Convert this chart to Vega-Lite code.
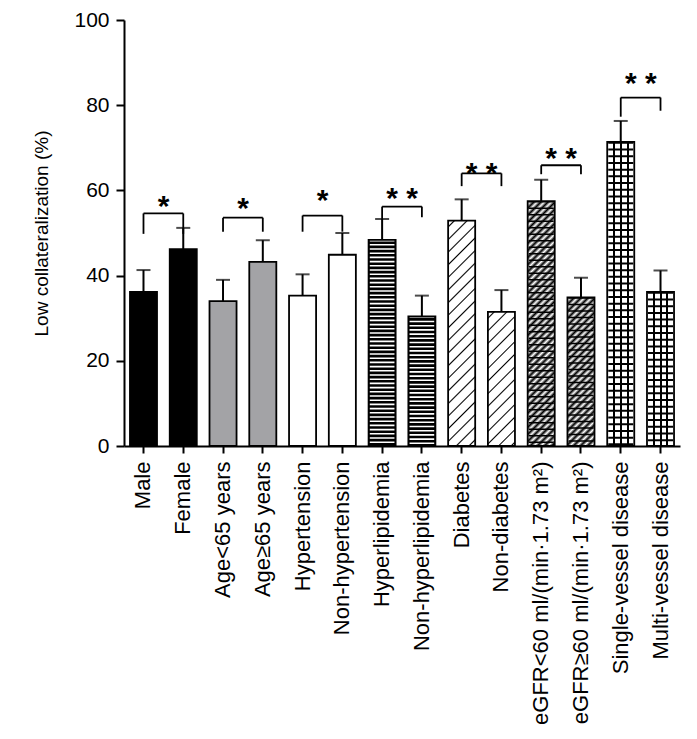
{
  "$schema": "https://vega.github.io/schema/vega-lite/v6.json",
  "width": 556,
  "height": 426,
  "autosize": "none",
  "padding": {"left": 124, "top": 20, "right": 17, "bottom": 293},
  "background": "#ffffff",
  "config": {"font": "Liberation Sans", "view": {"stroke": null}},
  "datasets": {
    "bars": [
      {"label": "Male", "factor": "Sex", "value": 36.2, "upper": 41.3},
      {"label": "Female", "factor": "Sex", "value": 46.2, "upper": 51.2},
      {"label": "Age<65 years", "factor": "Age", "value": 34.0, "upper": 39.0},
      {"label": "Age≥65 years", "factor": "Age", "value": 43.2, "upper": 48.3},
      {"label": "Hypertension", "factor": "Hypertension", "value": 35.3, "upper": 40.3},
      {"label": "Non-hypertension", "factor": "Hypertension", "value": 44.9, "upper": 50.0},
      {"label": "Hyperlipidemia", "factor": "Hyperlipidemia", "value": 48.4, "upper": 53.3},
      {"label": "Non-hyperlipidemia", "factor": "Hyperlipidemia", "value": 30.4, "upper": 35.3},
      {"label": "Diabetes", "factor": "Diabetes", "value": 52.9, "upper": 57.9},
      {"label": "Non-diabetes", "factor": "Diabetes", "value": 31.5, "upper": 36.6},
      {"label": "eGFR<60 ml/(min·1.73 m²)", "factor": "eGFR", "value": 57.5, "upper": 62.5},
      {"label": "eGFR≥60 ml/(min·1.73 m²)", "factor": "eGFR", "value": 34.9, "upper": 39.5},
      {"label": "Single-vessel disease", "factor": "Vessel", "value": 71.4, "upper": 76.3},
      {"label": "Multi-vessel disease", "factor": "Vessel", "value": 36.2, "upper": 41.2}
    ],
    "brackets": [
      {"a": "Male", "b": "Female", "top": 54.6, "legA": 49.8, "legB": 49.8, "stars": "*", "starY": 57.7},
      {"a": "Age<65 years", "b": "Age≥65 years", "top": 53.6, "legA": 50.3, "legB": 50.3, "stars": "*", "starY": 57.2},
      {"a": "Hypertension", "b": "Non-hypertension", "top": 54.1, "legA": 50.3, "legB": 50.3, "stars": "*", "starY": 59.1},
      {"a": "Hyperlipidemia", "b": "Non-hyperlipidemia", "top": 56.2, "legA": 53.3, "legB": 53.7, "stars": "* *", "starY": 59.6},
      {"a": "Diabetes", "b": "Non-diabetes", "top": 64.0, "legA": 61.0, "legB": 61.0, "stars": "* *", "starY": 65.6},
      {"a": "eGFR<60 ml/(min·1.73 m²)", "b": "eGFR≥60 ml/(min·1.73 m²)", "top": 65.9, "legA": 63.8, "legB": 63.8, "stars": "* *", "starY": 69.1},
      {"a": "Single-vessel disease", "b": "Multi-vessel disease", "top": 81.8, "legA": 77.3, "legB": 78.7, "stars": "* *", "starY": 86.7}
    ]
  },
  "encoding": {
    "x": {
      "field": "label",
      "type": "nominal",
      "scale": {
        "domain": ["Male", "Female", "Age<65 years", "Age≥65 years", "Hypertension", "Non-hypertension", "Hyperlipidemia", "Non-hyperlipidemia", "Diabetes", "Non-diabetes", "eGFR<60 ml/(min·1.73 m²)", "eGFR≥60 ml/(min·1.73 m²)", "Single-vessel disease", "Multi-vessel disease"],
        "paddingInner": 0.32,
        "paddingOuter": 0.15
      },
      "axis": {
        "title": null,
        "labelAngle": -90,
        "labelAlign": "right",
        "labelBaseline": "middle",
        "labelFontSize": 22,
        "labelColor": "#000",
        "labelPadding": 8,
        "labelLimit": 400,
        "labelOverlap": false,
        "tickColor": "#000",
        "tickWidth": 2,
        "tickSize": 7,
        "domainColor": "#000",
        "domainWidth": 2
      }
    },
    "y": {
      "field": "value",
      "type": "quantitative",
      "scale": {"domain": [0, 100], "nice": false, "zero": true},
      "axis": {
        "title": "Low collateralization (%)",
        "titleFontSize": 19,
        "titleFontWeight": "normal",
        "titleColor": "#000",
        "titlePadding": 22,
        "values": [0, 20, 40, 60, 80, 100],
        "labelFontSize": 21,
        "labelColor": "#000",
        "labelPadding": 7,
        "tickColor": "#000",
        "tickWidth": 2,
        "tickSize": 8,
        "domainColor": "#000",
        "domainWidth": 2,
        "grid": false
      }
    }
  },
  "layer": [
    {
      "data": {"name": "bars"},
      "mark": {"type": "bar", "strokeWidth": 0},
      "encoding": {
        "fill": {
          "condition": [
            {"test": "datum.factor === 'Sex'", "value": "#000000"},
            {"test": "datum.factor === 'Age'", "value": "#a3a3a6"},
            {"test": "datum.factor === 'Hyperlipidemia'", "value": "#000000"}
          ],
          "value": "#ffffff"
        }
      }
    },
    {
      "data": {"name": "bars"},
      "transform": [{"filter": "datum.label === 'Diabetes'"}],
      "mark": {"type": "bar", "strokeWidth": 0, "fill": {"gradient": "linear", "x1": 0, "y1": 0, "x2": 0.132, "y2": 1.104, "stops": [
        {"offset": 0.019, "color": "#fff"}, {"offset": 0.025, "color": "#000"}, {"offset": 0.031, "color": "#fff"},
        {"offset": 0.069, "color": "#fff"}, {"offset": 0.075, "color": "#000"}, {"offset": 0.081, "color": "#fff"},
        {"offset": 0.119, "color": "#fff"}, {"offset": 0.125, "color": "#000"}, {"offset": 0.131, "color": "#fff"},
        {"offset": 0.169, "color": "#fff"}, {"offset": 0.175, "color": "#000"}, {"offset": 0.181, "color": "#fff"},
        {"offset": 0.219, "color": "#fff"}, {"offset": 0.225, "color": "#000"}, {"offset": 0.231, "color": "#fff"},
        {"offset": 0.269, "color": "#fff"}, {"offset": 0.275, "color": "#000"}, {"offset": 0.281, "color": "#fff"},
        {"offset": 0.319, "color": "#fff"}, {"offset": 0.325, "color": "#000"}, {"offset": 0.331, "color": "#fff"},
        {"offset": 0.369, "color": "#fff"}, {"offset": 0.375, "color": "#000"}, {"offset": 0.381, "color": "#fff"},
        {"offset": 0.419, "color": "#fff"}, {"offset": 0.425, "color": "#000"}, {"offset": 0.431, "color": "#fff"},
        {"offset": 0.469, "color": "#fff"}, {"offset": 0.475, "color": "#000"}, {"offset": 0.481, "color": "#fff"},
        {"offset": 0.519, "color": "#fff"}, {"offset": 0.525, "color": "#000"}, {"offset": 0.531, "color": "#fff"},
        {"offset": 0.569, "color": "#fff"}, {"offset": 0.575, "color": "#000"}, {"offset": 0.581, "color": "#fff"},
        {"offset": 0.619, "color": "#fff"}, {"offset": 0.625, "color": "#000"}, {"offset": 0.631, "color": "#fff"},
        {"offset": 0.669, "color": "#fff"}, {"offset": 0.675, "color": "#000"}, {"offset": 0.681, "color": "#fff"},
        {"offset": 0.719, "color": "#fff"}, {"offset": 0.725, "color": "#000"}, {"offset": 0.731, "color": "#fff"},
        {"offset": 0.769, "color": "#fff"}, {"offset": 0.775, "color": "#000"}, {"offset": 0.781, "color": "#fff"},
        {"offset": 0.819, "color": "#fff"}, {"offset": 0.825, "color": "#000"}, {"offset": 0.831, "color": "#fff"},
        {"offset": 0.869, "color": "#fff"}, {"offset": 0.875, "color": "#000"}, {"offset": 0.881, "color": "#fff"},
        {"offset": 0.919, "color": "#fff"}, {"offset": 0.925, "color": "#000"}, {"offset": 0.931, "color": "#fff"},
        {"offset": 0.969, "color": "#fff"}, {"offset": 0.975, "color": "#000"}, {"offset": 0.981, "color": "#fff"}
      ]}}
    },
    {
      "data": {"name": "bars"},
      "transform": [{"filter": "datum.label === 'Non-diabetes'"}],
      "mark": {"type": "bar", "strokeWidth": 0, "fill": {"gradient": "linear", "x1": 0, "y1": 0, "x2": 0.2323, "y2": 1.1544, "stops": [
        {"offset": 0.031, "color": "#fff"}, {"offset": 0.04, "color": "#000"}, {"offset": 0.049, "color": "#fff"},
        {"offset": 0.109, "color": "#fff"}, {"offset": 0.118, "color": "#000"}, {"offset": 0.127, "color": "#fff"},
        {"offset": 0.187, "color": "#fff"}, {"offset": 0.196, "color": "#000"}, {"offset": 0.205, "color": "#fff"},
        {"offset": 0.265, "color": "#fff"}, {"offset": 0.274, "color": "#000"}, {"offset": 0.283, "color": "#fff"},
        {"offset": 0.343, "color": "#fff"}, {"offset": 0.352, "color": "#000"}, {"offset": 0.361, "color": "#fff"},
        {"offset": 0.421, "color": "#fff"}, {"offset": 0.43, "color": "#000"}, {"offset": 0.439, "color": "#fff"},
        {"offset": 0.499, "color": "#fff"}, {"offset": 0.508, "color": "#000"}, {"offset": 0.517, "color": "#fff"},
        {"offset": 0.577, "color": "#fff"}, {"offset": 0.586, "color": "#000"}, {"offset": 0.595, "color": "#fff"},
        {"offset": 0.655, "color": "#fff"}, {"offset": 0.664, "color": "#000"}, {"offset": 0.673, "color": "#fff"},
        {"offset": 0.733, "color": "#fff"}, {"offset": 0.742, "color": "#000"}, {"offset": 0.751, "color": "#fff"},
        {"offset": 0.811, "color": "#fff"}, {"offset": 0.82, "color": "#000"}, {"offset": 0.829, "color": "#fff"},
        {"offset": 0.889, "color": "#fff"}, {"offset": 0.898, "color": "#000"}, {"offset": 0.907, "color": "#fff"},
        {"offset": 0.967, "color": "#fff"}, {"offset": 0.976, "color": "#000"}, {"offset": 0.985, "color": "#fff"}
      ]}}
    },
    {
      "data": {"name": "bars"},
      "transform": [{"filter": "datum.label === 'eGFR<60 ml/(min·1.73 m²)'"}],
      "mark": {"type": "bar", "strokeWidth": 0, "fill": {"gradient": "linear", "x1": 0, "y1": 0, "x2": 0.1211, "y2": 1.0971, "stops": [
        {"offset": 0, "color": "#000"}, {"offset": 0.013, "color": "#fff"}, {"offset": 0.026, "color": "#000"}, {"offset": 0.039, "color": "#fff"},
        {"offset": 0.052, "color": "#000"}, {"offset": 0.065, "color": "#fff"}, {"offset": 0.078, "color": "#000"}, {"offset": 0.091, "color": "#fff"},
        {"offset": 0.104, "color": "#000"}, {"offset": 0.117, "color": "#fff"}, {"offset": 0.13, "color": "#000"}, {"offset": 0.143, "color": "#fff"},
        {"offset": 0.156, "color": "#000"}, {"offset": 0.169, "color": "#fff"}, {"offset": 0.182, "color": "#000"}, {"offset": 0.195, "color": "#fff"},
        {"offset": 0.208, "color": "#000"}, {"offset": 0.221, "color": "#fff"}, {"offset": 0.234, "color": "#000"}, {"offset": 0.247, "color": "#fff"},
        {"offset": 0.26, "color": "#000"}, {"offset": 0.273, "color": "#fff"}, {"offset": 0.286, "color": "#000"}, {"offset": 0.299, "color": "#fff"},
        {"offset": 0.312, "color": "#000"}, {"offset": 0.325, "color": "#fff"}, {"offset": 0.338, "color": "#000"}, {"offset": 0.351, "color": "#fff"},
        {"offset": 0.364, "color": "#000"}, {"offset": 0.377, "color": "#fff"}, {"offset": 0.39, "color": "#000"}, {"offset": 0.403, "color": "#fff"},
        {"offset": 0.416, "color": "#000"}, {"offset": 0.429, "color": "#fff"}, {"offset": 0.442, "color": "#000"}, {"offset": 0.455, "color": "#fff"},
        {"offset": 0.468, "color": "#000"}, {"offset": 0.481, "color": "#fff"}, {"offset": 0.494, "color": "#000"}, {"offset": 0.507, "color": "#fff"},
        {"offset": 0.52, "color": "#000"}, {"offset": 0.533, "color": "#fff"}, {"offset": 0.546, "color": "#000"}, {"offset": 0.559, "color": "#fff"},
        {"offset": 0.572, "color": "#000"}, {"offset": 0.585, "color": "#fff"}, {"offset": 0.598, "color": "#000"}, {"offset": 0.611, "color": "#fff"},
        {"offset": 0.624, "color": "#000"}, {"offset": 0.637, "color": "#fff"}, {"offset": 0.65, "color": "#000"}, {"offset": 0.663, "color": "#fff"},
        {"offset": 0.676, "color": "#000"}, {"offset": 0.689, "color": "#fff"}, {"offset": 0.702, "color": "#000"}, {"offset": 0.715, "color": "#fff"},
        {"offset": 0.728, "color": "#000"}, {"offset": 0.741, "color": "#fff"}, {"offset": 0.754, "color": "#000"}, {"offset": 0.767, "color": "#fff"},
        {"offset": 0.78, "color": "#000"}, {"offset": 0.793, "color": "#fff"}, {"offset": 0.806, "color": "#000"}, {"offset": 0.819, "color": "#fff"},
        {"offset": 0.832, "color": "#000"}, {"offset": 0.845, "color": "#fff"}, {"offset": 0.858, "color": "#000"}, {"offset": 0.871, "color": "#fff"},
        {"offset": 0.884, "color": "#000"}, {"offset": 0.897, "color": "#fff"}, {"offset": 0.91, "color": "#000"}, {"offset": 0.923, "color": "#fff"},
        {"offset": 0.936, "color": "#000"}, {"offset": 0.949, "color": "#fff"}, {"offset": 0.962, "color": "#000"}, {"offset": 0.975, "color": "#fff"},
        {"offset": 0.988, "color": "#000"}
      ]}}
    },
    {
      "data": {"name": "bars"},
      "transform": [{"filter": "datum.label === 'eGFR≥60 ml/(min·1.73 m²)'"}],
      "mark": {"type": "bar", "strokeWidth": 0, "fill": {"gradient": "linear", "x1": 0, "y1": 0, "x2": 0.2081, "y2": 1.144, "stops": [
        {"offset": 0, "color": "#000"}, {"offset": 0.02, "color": "#fff"}, {"offset": 0.04, "color": "#000"}, {"offset": 0.06, "color": "#fff"},
        {"offset": 0.08, "color": "#000"}, {"offset": 0.1, "color": "#fff"}, {"offset": 0.12, "color": "#000"}, {"offset": 0.14, "color": "#fff"},
        {"offset": 0.16, "color": "#000"}, {"offset": 0.18, "color": "#fff"}, {"offset": 0.2, "color": "#000"}, {"offset": 0.22, "color": "#fff"},
        {"offset": 0.24, "color": "#000"}, {"offset": 0.26, "color": "#fff"}, {"offset": 0.28, "color": "#000"}, {"offset": 0.3, "color": "#fff"},
        {"offset": 0.32, "color": "#000"}, {"offset": 0.34, "color": "#fff"}, {"offset": 0.36, "color": "#000"}, {"offset": 0.38, "color": "#fff"},
        {"offset": 0.4, "color": "#000"}, {"offset": 0.42, "color": "#fff"}, {"offset": 0.44, "color": "#000"}, {"offset": 0.46, "color": "#fff"},
        {"offset": 0.48, "color": "#000"}, {"offset": 0.5, "color": "#fff"}, {"offset": 0.52, "color": "#000"}, {"offset": 0.54, "color": "#fff"},
        {"offset": 0.56, "color": "#000"}, {"offset": 0.58, "color": "#fff"}, {"offset": 0.6, "color": "#000"}, {"offset": 0.62, "color": "#fff"},
        {"offset": 0.64, "color": "#000"}, {"offset": 0.66, "color": "#fff"}, {"offset": 0.68, "color": "#000"}, {"offset": 0.7, "color": "#fff"},
        {"offset": 0.72, "color": "#000"}, {"offset": 0.74, "color": "#fff"}, {"offset": 0.76, "color": "#000"}, {"offset": 0.78, "color": "#fff"},
        {"offset": 0.8, "color": "#000"}, {"offset": 0.82, "color": "#fff"}, {"offset": 0.84, "color": "#000"}, {"offset": 0.86, "color": "#fff"},
        {"offset": 0.88, "color": "#000"}, {"offset": 0.9, "color": "#fff"}, {"offset": 0.92, "color": "#000"}, {"offset": 0.94, "color": "#fff"},
        {"offset": 0.96, "color": "#000"}, {"offset": 0.98, "color": "#fff"}, {"offset": 1, "color": "#000"}
      ]}}
    },
    {
      "data": {"name": "bars"},
      "transform": [{"filter": "datum.factor === 'Vessel'"}],
      "mark": {"type": "bar", "strokeWidth": 0, "fill": {"gradient": "linear", "x1": 0, "y1": 0, "x2": 1, "y2": 0, "stops": [
        {"offset": 0, "color": "#fff"}, {"offset": 0.213, "color": "#fff"}, {"offset": 0.213, "color": "#000"}, {"offset": 0.287, "color": "#000"}, {"offset": 0.287, "color": "#fff"},
        {"offset": 0.463, "color": "#fff"}, {"offset": 0.463, "color": "#000"}, {"offset": 0.537, "color": "#000"}, {"offset": 0.537, "color": "#fff"},
        {"offset": 0.713, "color": "#fff"}, {"offset": 0.713, "color": "#000"}, {"offset": 0.787, "color": "#000"}, {"offset": 0.787, "color": "#fff"},
        {"offset": 1, "color": "#fff"}
      ]}}
    },
    {
      "data": {"name": "bars"},
      "transform": [{"filter": "datum.factor === 'Hyperlipidemia'"}],
      "mark": {"type": "rule", "color": "#ffffff", "strokeWidth": 25, "strokeDash": [1.6, 2.6], "strokeCap": "butt"},
      "encoding": {"y2": {"datum": 0}}
    },
    {
      "data": {"name": "bars"},
      "transform": [{"filter": "datum.factor === 'eGFR'"}],
      "mark": {"type": "rule", "color": "#000000", "strokeWidth": 25, "strokeDash": [1.5, 5], "strokeCap": "butt"},
      "encoding": {"y2": {"datum": 0}}
    },
    {
      "data": {"name": "bars"},
      "transform": [{"filter": "datum.factor === 'Vessel'"}],
      "mark": {"type": "rule", "color": "#000000", "strokeWidth": 25, "strokeDash": [2, 4.7], "strokeCap": "butt"},
      "encoding": {"y2": {"datum": 0}}
    },
    {
      "data": {"name": "bars"},
      "mark": {"type": "bar", "fill": "transparent", "stroke": "#000000", "strokeWidth": 1.8}
    },
    {
      "data": {"name": "bars"},
      "mark": {"type": "rule", "color": "#000000", "strokeWidth": 2},
      "encoding": {"y2": {"field": "upper"}}
    },
    {
      "data": {"name": "bars"},
      "mark": {"type": "tick", "color": "#000000", "size": 14, "thickness": 2},
      "encoding": {"y": {"field": "upper", "type": "quantitative"}}
    },
    {
      "data": {"name": "brackets"},
      "mark": {"type": "rule", "color": "#000000", "strokeWidth": 1.8},
      "encoding": {
        "x": {"field": "a", "type": "nominal", "bandPosition": 0.5},
        "x2": {"field": "b", "bandPosition": 0.5},
        "y": {"field": "top", "type": "quantitative"}
      }
    },
    {
      "data": {"name": "brackets"},
      "mark": {"type": "rule", "color": "#000000", "strokeWidth": 1.8},
      "encoding": {
        "x": {"field": "a", "type": "nominal"},
        "y": {"field": "top", "type": "quantitative"},
        "y2": {"field": "legA"}
      }
    },
    {
      "data": {"name": "brackets"},
      "mark": {"type": "rule", "color": "#000000", "strokeWidth": 1.8},
      "encoding": {
        "x": {"field": "b", "type": "nominal"},
        "y": {"field": "top", "type": "quantitative"},
        "y2": {"field": "legB"}
      }
    },
    {
      "data": {"name": "brackets"},
      "mark": {"type": "text", "fontSize": 30, "fontWeight": "bold", "color": "#000000", "baseline": "middle", "align": "center", "dx": 20, "dy": 7},
      "encoding": {
        "x": {"field": "a", "type": "nominal"},
        "y": {"field": "starY", "type": "quantitative"},
        "text": {"field": "stars"}
      }
    }
  ]
}
